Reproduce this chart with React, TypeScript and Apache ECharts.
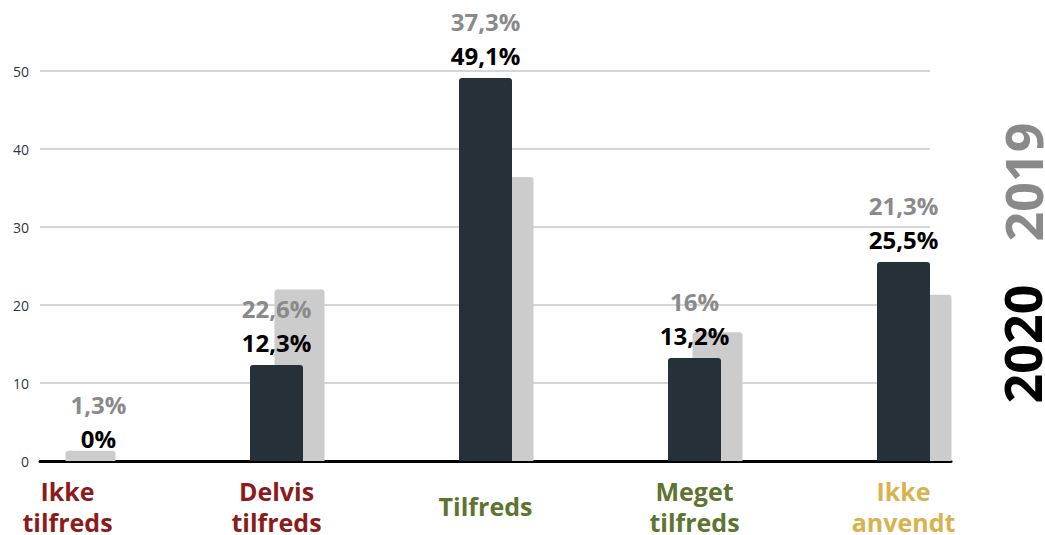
import React, { useEffect, useRef } from "react";
import * as echarts from "echarts";

const categories = ["Ikke\ntilfreds", "Delvis\ntilfreds", "Tilfreds", "Meget\ntilfreds", "Ikke\nanvendt"];
const categoryColors = ["#8b1c1c", "#8b1c1c", "#5e7431", "#5e7431", "#d8b24e"];
const values2020 = [0, 12.3, 49.1, 13.2, 25.5];
const values2019 = [1.3, 22.0, 36.4, 16.5, 21.3];
const labels2020 = ["0%", "12,3%", "49,1%", "13,2%", "25,5%"];
const labels2019 = ["1,3%", "22,6%", "37,3%", "16%", "21,3%"];
const yTicks = { min: 0, max: 50, interval: 10 };

const FONT = "'Open Sans', 'Noto Sans', sans-serif";

export default function App() {
  const ref = useRef<HTMLDivElement>(null);
  useEffect(() => {
    if (!ref.current) return;
    const chart = echarts.init(ref.current, null, { renderer: "svg" });
    const top = 71;
    const height = 390;
    const hiddenY = (gi: number) => ({
      type: "value",
      gridIndex: gi,
      min: yTicks.min,
      max: yTicks.max,
      interval: yTicks.interval,
      show: false,
    });
    const g = (left: number, width: number) => ({
      left,
      width,
      top,
      height,
      containLabel: false,
      outerBoundsMode: "none",
    });
    chart.setOption({
      animation: false,
      backgroundColor: "#ffffff",
      grid: [g(40, 890), g(67.5, 836), g(90.5, 836), g(40, 911)],
      xAxis: [
        { type: "category", gridIndex: 0, data: categories, show: false },
        {
          type: "category",
          gridIndex: 1,
          data: categories,
          boundaryGap: false,
          axisLine: { show: false },
          axisTick: { show: false },
          splitLine: { show: false },
          axisLabel: {
            interval: 0,
            margin: 45,
            verticalAlign: "middle",
            fontFamily: FONT,
            fontWeight: "bold",
            fontSize: 25,
            lineHeight: 31,
            color: (_v: any, i: number) => categoryColors[i],
          },
        },
        { type: "category", gridIndex: 2, data: categories, boundaryGap: false, show: false },
        {
          type: "category",
          gridIndex: 3,
          data: categories,
          axisLine: { show: true, lineStyle: { color: "#000000", width: 3 } },
          axisTick: { show: false },
          axisLabel: { show: false },
        },
      ],
      yAxis: [
        {
          type: "value",
          gridIndex: 0,
          min: yTicks.min,
          max: yTicks.max,
          interval: yTicks.interval,
          axisLine: { show: false },
          axisTick: { show: false },
          axisLabel: { margin: 11, color: "#2e3640", fontSize: 14, fontFamily: FONT },
          splitLine: { lineStyle: { color: "#c8c8c8", width: 1.5 } },
        },
        hiddenY(1),
        hiddenY(2),
        hiddenY(3),
      ],
      series: [
        {
          name: "2019",
          type: "bar",
          xAxisIndex: 2,
          yAxisIndex: 2,
          data: values2019,
          barWidth: 50,
          clip: false,
          z: 2,
          itemStyle: { color: "#cccccc", borderRadius: [3, 3, 0, 0] },
        },
        {
          name: "2020",
          type: "bar",
          xAxisIndex: 1,
          yAxisIndex: 1,
          barWidth: 53,
          clip: false,
          z: 3,
          data: values2020.map((v, i) => ({
            value: v,
            label: i === 0 ? { offset: [31, 0] } : undefined,
          })),
          itemStyle: { color: "#263039", borderRadius: [3, 3, 0, 0] },
          label: {
            show: true,
            position: "top",
            distance: 6,
            formatter: (p: any) => `{g|${labels2019[p.dataIndex]}}\n{b|${labels2020[p.dataIndex]}}`,
            rich: {
              g: { color: "#8a8a8a", fontSize: 24, fontWeight: "bold", fontFamily: FONT, lineHeight: 34 },
              b: { color: "#000000", fontSize: 24, fontWeight: "bold", fontFamily: FONT, lineHeight: 34 },
            },
          },
        },
      ],
      graphic: [
        {
          type: "text",
          x: 1022,
          y: 182,
          rotation: Math.PI / 2,
          style: {
            text: "2019",
            fill: "#8a8a8a",
            font: `bold 52px ${FONT}`,
            lineHeight: 44,
            textAlign: "center",
            textVerticalAlign: "middle",
          },
        },
        {
          type: "text",
          x: 1021,
          y: 344,
          rotation: Math.PI / 2,
          style: {
            text: "2020",
            fill: "#000000",
            font: `bold 52px ${FONT}`,
            lineHeight: 44,
            textAlign: "center",
            textVerticalAlign: "middle",
          },
        },
      ],
    });
    return () => chart.dispose();
  }, []);
  return <div ref={ref} style={{ width: 1045, height: 535, position: "absolute", left: 0, top: 0 }} />;
}
